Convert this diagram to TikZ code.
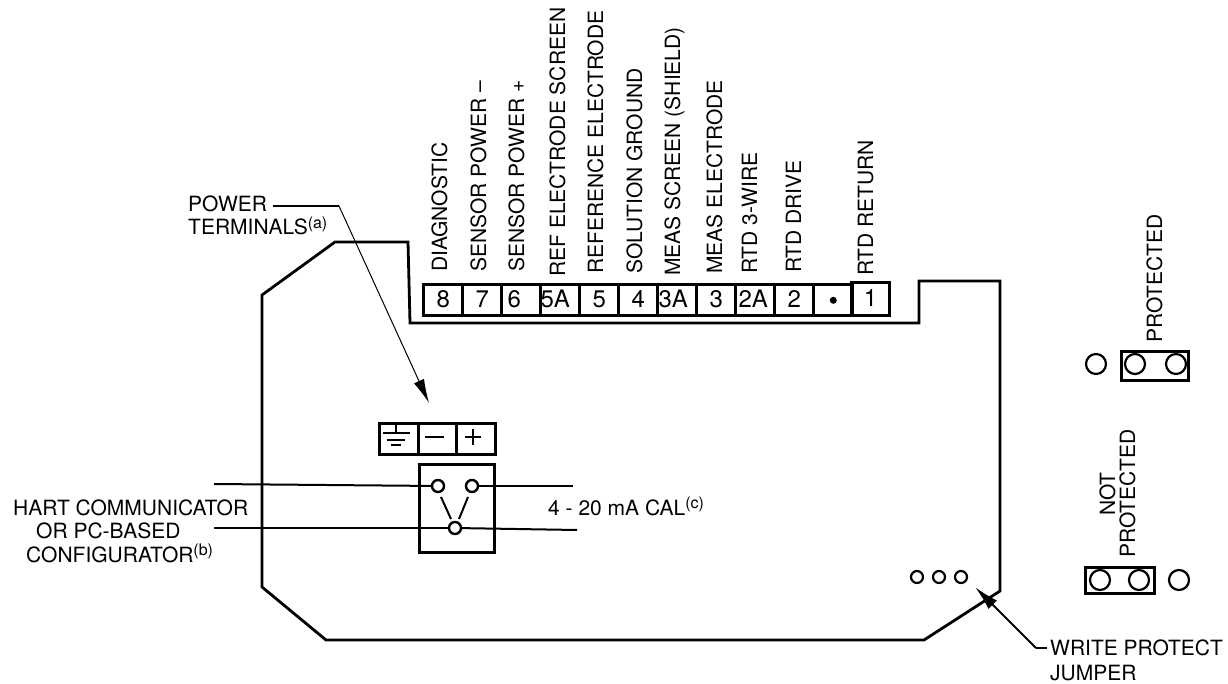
\documentclass[tikz,border=0pt]{standalone}
\usepackage{fontspec}
\setmainfont{TeX Gyre Heros}
\usetikzlibrary{arrows,arrows.meta,calc,positioning}
\usetikzlibrary{matrix}
\newcommand{\supnote}[1]{\raisebox{0.3em}{\fontsize{16}{16}\selectfont #1}}
\begin{document}
\begin{tikzpicture}[
    x=1pt, y=-1pt,
    auto,
    nosep/.style={inner sep=0},
    lbl/.style={nosep, font=\fontsize{21}{24}\selectfont},
    vlbl/.style={lbl, rotate=90, anchor=west},
    outline/.style={line width=2.8pt, line join=miter},
    wire/.style={line width=2pt},
    leader/.style={line width=1.5pt},
    pin/.style={circle, draw, line width=2.4pt, minimum size=12pt, nosep, fill=white},
    jumperpin/.style={circle, draw, line width=2.2pt, minimum size=20pt, nosep},
    jumperbox/.style={draw, line width=3pt, nosep, outer sep=0},
    pwrbox/.style={draw, line width=3pt, nosep, outer sep=0, minimum width=38.7pt, minimum height=31pt},
    termbox/.style={rectangle, draw, line width=3.2pt, nosep, minimum width=39pt, minimum height=31pt, text height=17pt, text depth=3pt, font=\fontsize{24}{24}\selectfont},
    strip/.style={
        matrix of nodes,
        nosep,
        column sep=-3.2pt,
        nodes in empty cells,
        nodes={termbox}}]
\useasboundingbox (0,0) rectangle (1228,684);

% housing
\draw[outline] (262,295) -- (335,242) -- (408,242) -- (410,323) -- (919,323) -- (919,281) -- (1000,281) -- (1000,591) -- (924,640) -- (326,640) -- (262,587) -- cycle;

% field wiring terminals
\matrix (TERMS) [strip, ampersand replacement=\&, anchor=north west] at (422,283) {
 8 \& 7 \& \hspace{-14pt}6 \& \hspace{-10pt}5A \& 5 \& 4 \& \hspace{-8pt}3A \& 3 \& \hspace{-4pt}2A \& 2 \& \\
};
\node (TERMdot) [circle, fill, nosep, minimum size=7pt] at (TERMS-1-11) {};
\node (TERMone) [termbox, minimum width=38pt, minimum height=33pt, anchor=north west] at (850,281) {1};

\foreach \lx/\ly/\ltxt in {
 447/272/DIAGNOSTIC, 486/272/SENSOR POWER --, 524/272/SENSOR POWER +,
 565/277/REF ELECTRODE SCREEN, 603/274/REFERENCE ELECTRODE, 642/274/SOLUTION GROUND,
 680/276/MEAS SCREEN (SHIELD), 722/274/MEAS ELECTRODE, 757/274/RTD 3-WIRE,
 801/273/RTD DRIVE, 873/276/RTD RETURN}
  \node (lbl\lx) [vlbl, anchor=base west] at (\lx,\ly) {\ltxt};

% power terminals
\node (PWRtext) [lbl, anchor=base west] at (188,212) {POWER};
\node (PWRtextb) [lbl, anchor=base west] at (188,235) {TERMINALS\supnote{(a)}};
\node (GND) [pwrbox, anchor=north west] at (379.5,423.5) {};
\node (MINUS) [pwrbox, anchor=west] at (GND.east) {};
\node (PLUS) [pwrbox, anchor=west] at (MINUS.east) {};
\draw[wire] (425,437) -- (444,437);
\draw[wire] (465,437) -- (481,437) (473,429) -- (473,445);
\draw[wire] (396,425) -- (396,433) (383,433) -- (410,433) (387,440) -- (405,440) (391,445) -- (401,445);
\coordinate (PWRbend) at (339,206);
\coordinate (PWRstart) at (273,206);
\coordinate (PWRtip) at (429,403);
\draw[leader] (PWRstart) -- (PWRbend);
\draw[line width=1pt, -{Latex[length=24pt,width=11pt]}] (PWRbend) -- (PWRtip);

% comm block
\node (COMM) [draw, line width=3pt, minimum width=75pt, minimum height=88pt, nosep, outer sep=0, anchor=north west] at (419,464) {};
\coordinate (HARTa) at (214,484);
\coordinate (HARTb) at (214,528);
\coordinate (CALa) at (573,486);
\coordinate (CALb) at (577,530);
\node (PINa) [pin] at (438,486) {};
\node (PINb) [pin] at (472,486) {};
\node (PINc) [pin] at (455,528) {};
\draw[wire] (HARTa) -- (PINa);
\draw[wire] (HARTb) -- (PINc);
\draw[wire] (PINb) -- (CALa);
\draw[wire] (PINc) -- (CALb);
\draw[wire] (441,497) -- (451,519);
\draw[wire] (468,497) -- (459,519);
\node (CALtext) [lbl, anchor=base west] at (548,515) {4 - 20 mA CAL\supnote{(c)}};
\node (HARTtext) [lbl, anchor=base west] at (13,515) {HART COMMUNICATOR};
\node (HARTtextb) [lbl, anchor=base west] at (36,538) {OR PC-BASED};
\node (HARTtextc) [lbl, anchor=base west] at (26,562) {CONFIGURATOR\supnote{(b)}};

% write protect
\foreach \wx in {917,939,961}
  \node (WP\wx) [circle, draw, line width=2.2pt, minimum size=12pt, nosep] at (\wx,577) {};
\node (WPtext) [lbl, anchor=base west] at (1050,655) {WRITE PROTECT};
\node (WPtextb) [lbl, anchor=base west] at (1050,680) {JUMPER};
\coordinate (WPbend) at (1036,648);
\coordinate (WPtip) at (975,587);
\draw[wire] (1047,648) -- (WPbend);
\draw[wire, -{Latex[length=25pt,width=12pt]}] (WPbend) -- (WPtip);

% jumper, protected
\node (PROTpinA) [jumperpin] at (1096,364) {};
\node (PROTpinB) [jumperpin] at (1135,364) {};
\node (PROTpinC) [jumperpin] at (1176,364) {};
\node (PROTbox) [jumperbox, minimum width=67pt, minimum height=29pt, anchor=north west] at (1121.5,351.5) {};
\node (PROTtext) [vlbl, anchor=base west] at (1162,343) {PROTECTED};

% jumper, not protected
\node (NOTpinA) [jumperpin] at (1100,580) {};
\node (NOTpinB) [jumperpin] at (1139,580) {};
\node (NOTpinC) [jumperpin] at (1179,580) {};
\node (NOTbox) [jumperbox, minimum width=69pt, minimum height=26pt, anchor=north west] at (1085.5,567.5) {};
\node (NOTtext) [lbl, rotate=90, anchor=base] at (1115,494) {NOT};
\node (NOTtextb) [vlbl, anchor=base west] at (1135,558) {PROTECTED};

\end{tikzpicture}
\end{document}
